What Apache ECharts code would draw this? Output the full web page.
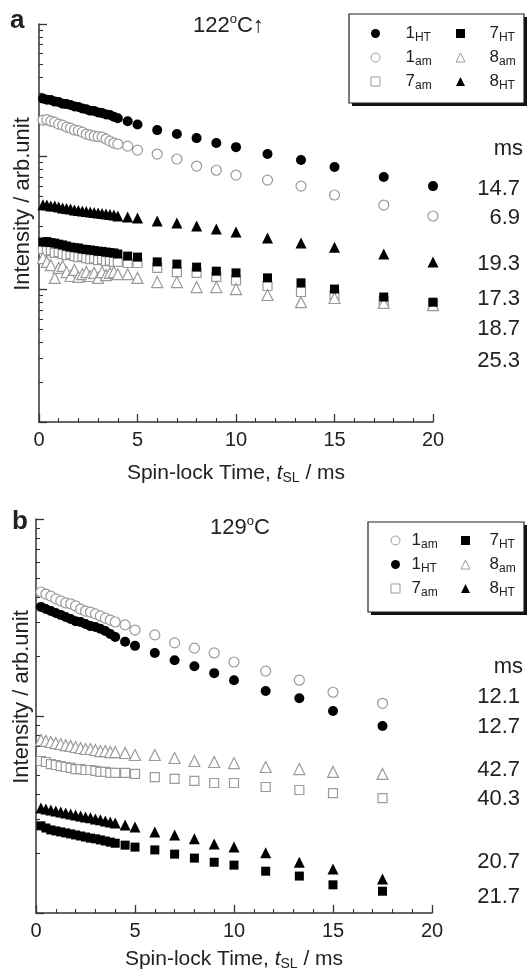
<!DOCTYPE html>
<html><head><meta charset="utf-8">
<script src="https://cdn.jsdelivr.net/npm/echarts@6/dist/echarts.min.js"></script>
<style>html,body{margin:0;padding:0;background:#fff}#c{width:529px;height:977px}</style>
</head><body><div id="c"></div>
<script>
// ---------- data ----------
const timesA = [0.2,0.4,0.6,0.8,1.0,1.2,1.4,1.6,1.8,2.0,2.2,2.4,2.6,2.8,3.0,3.2,3.4,3.6,3.8,4.0,4.5,5.0,6,7,8,9,10,11.6,13.3,15,17.5,20];
const timesB = [0.25,0.5,0.75,1.0,1.25,1.5,1.75,2.0,2.25,2.5,2.75,3.0,3.25,3.5,3.75,4.0,4.5,5.0,6,7,8,9,10,11.6,13.3,15,17.5];

const a1HT = [274,269,267,260,258,251,249,245,239,237,231,228,222,221,215,213,208,206,200,195,185,175,158.6,148,138,126.6,118,104.6,94.3,83.5,70.2,60];
const a1am = [188.8,190,185,182,176,173,167,164,159,157,153,148,145.5,143,141.6,140.5,135.8,131,126.6,124.5,120,112,104.6,96,85,79,72.7,66.6,60,51.4,43.2,35.7];
const a8HT = [43.5,43.2,42.4,42.4,41.7,41,40.6,40.3,39.6,39.3,38.9,38.6,38.3,37.9,37.6,37.3,36.9,36.6,36.3,35.7,35.1,34.5,32.7,31.6,30,28.5,27,24.4,22.3,20.8,18.5,16.1];
const a7HT = [22.7,22.9,22.5,22.3,21.9,21.6,21.2,20.8,20.6,20.5,20.1,19.95,19.8,19.6,19.4,19.3,19.1,18.9,18.8,18.45,17.8,17.5,16.1,15.5,14.7,13.7,13.3,12.2,11.2,10.05,8.75,8.0];
const a7am = [20.1,19.4,19.8,18.8,19.1,18.45,18.1,18.45,17.8,17.5,17.7,17.2,16.9,17.1,16.6,16.8,16.3,16.5,16.1,16.1,15.8,15.8,14.5,13.5,13.3,12.4,11.7,10.6,9.55,9.06,8.16,7.75];
const a8am = [17.2,16.1,15.2,12.2,14.5,15.0,13.5,12.6,14.0,12.4,13.0,13.5,12.6,13.3,12.2,13.5,12.8,13.3,13.5,13.0,13.0,12.2,11.35,11.35,10.4,10.4,10.05,9.06,8.0,8.6,7.9,7.6];

const b1am = [42.6,41.6,40.6,39.3,38.4,37.5,37.1,36.2,34.9,34.1,33.7,33.0,32.2,31.4,30.7,30.0,29.0,27.3,25.8,23.5,22.1,20.9,18.8,16.9,15.2,13.2,11.6];
const b1HT = [35.8,34.9,34.1,33.3,32.6,31.8,31.1,30.3,30.0,29.3,28.6,28.3,27.7,27.0,26.1,25.2,23.8,22.7,20.9,19.2,17.9,16.5,15.2,13.4,12.3,10.6,8.9];
const b8am = [7.55,7.47,7.38,7.29,7.21,7.12,7.05,6.96,6.88,6.80,6.80,6.72,6.64,6.64,6.56,6.56,6.49,6.34,6.34,6.12,5.91,5.84,5.77,5.51,5.38,5.2,5.08];
const b7am = [5.91,5.84,5.70,5.64,5.57,5.51,5.45,5.38,5.38,5.32,5.32,5.26,5.2,5.2,5.14,5.14,5.14,5.08,4.9,4.79,4.68,4.57,4.57,4.36,4.21,4.06,3.83];
const b8HT = [3.41,3.37,3.33,3.29,3.26,3.22,3.18,3.14,3.11,3.07,3.04,3.00,2.97,2.93,2.90,2.86,2.80,2.73,2.58,2.49,2.38,2.24,2.16,2.02,1.81,1.67,1.49];
const b7HT = [2.77,2.70,2.64,2.61,2.58,2.55,2.52,2.49,2.46,2.43,2.40,2.38,2.35,2.32,2.29,2.26,2.21,2.16,2.09,1.99,1.90,1.81,1.75,1.63,1.54,1.39,1.29];

const xTickValues = [0,5,10,15,20];
const yRangeA = [1,1000];
const yRangeB = [1,100];
const minorMultipliers = [2,3,4,5,6,7,8,9];
const legendA1 = ['a1HT','a1am','a7am'];
const legendA2 = ['a7HT','a8am','a8HT'];
const legendB1 = ['b1am','b1HT','b7am'];
const legendB2 = ['b7HT','b8am','b8HT'];
const t1LabelsA = ['ms','14.7','6.9','19.3','17.3','18.7','25.3'];
const t1LabelsB = ['ms','12.1','12.7','42.7','40.3','20.7','21.7'];

// ---------- chart ----------
const FF = "'Liberation Sans', Arial, Helvetica, sans-serif";
const AX = '#333';
const BLACK = '#000';
const GREY = '#9a9a9a';

function zip(t, v){ return t.map((x,i)=>[x, v[i]]); }
function minorLogs(range){
  const out = [];
  for (let d = range[0]; d < range[1]; d *= 10) minorMultipliers.forEach(m => out.push(Math.log10(m*d)));
  return out;
}
const styles = {
  '1HT': {symbol:'circle', size:10, itemStyle:{color:BLACK, opacity:1}},
  '1am': {symbol:'circle', size:10, itemStyle:{color:'#fff', borderColor:GREY, borderWidth:1.2, opacity:1}},
  '7HT': {symbol:'rect', size:9, itemStyle:{color:BLACK, opacity:1}},
  '7am': {symbol:'rect', size:9, itemStyle:{color:'#fff', borderColor:GREY, borderWidth:1.2, opacity:1}},
  '8HT': {symbol:'triangle', size:11, itemStyle:{color:BLACK, opacity:1}},
  '8am': {symbol:'triangle', size:11, itemStyle:{color:'#fff', borderColor:GREY, borderWidth:1.2, opacity:1}}
};
function mk(name, t, v, gi){
  const s = styles[name.slice(1)];
  return {type:'scatter', name, xAxisIndex:gi, yAxisIndex:gi*2, data:zip(t,v),
    symbol:s.symbol, symbolSize:s.size, itemStyle:s.itemStyle, silent:true, z:3};
}
function xAxis(gi, gap){
  return {type:'value', gridIndex:gi, min:0, max:20, interval:5,
    axisLine:{onZero:false, lineStyle:{color:AX, width:1.5}},
    axisTick:{inside:true, length:8, lineStyle:{color:AX, width:1.3}},
    minorTick:{show:true, splitNumber:5, length:4, lineStyle:{color:AX, width:1.1}},
    splitLine:{show:false}, minorSplitLine:{show:false},
    axisLabel:{fontSize:20, color:'#222', fontFamily:FF, margin:8,
      customValues:xTickValues},
    name:'{r|Spin-lock Time, }{i|t}{s|SL}{r| / ms}', nameLocation:'middle', nameGap:gap,
    nameTextStyle:{color:'#222', fontFamily:FF, fontSize:21,
      rich:{r:{fontSize:21, fontFamily:FF, color:'#222', lineHeight:24},
            i:{fontSize:21, fontFamily:FF, color:'#222', fontStyle:'italic', lineHeight:24},
            s:{fontSize:14, fontFamily:FF, color:'#222', lineHeight:14, verticalAlign:'bottom'}}}
  };
}
function yAxes(gi, range){
  return [
    {type:'log', logBase:10, gridIndex:gi, min:range[0], max:range[1], position:'left',
      axisLine:{show:true, onZero:false, lineStyle:{color:AX, width:1.5}},
      axisTick:{show:true, inside:true, length:8, lineStyle:{color:AX, width:1.3}},
      axisLabel:{show:false}, splitLine:{show:false}},
    {type:'value', gridIndex:gi, min:Math.log10(range[0]), max:Math.log10(range[1]), position:'left',
      axisLine:{show:false},
      axisTick:{show:true, inside:true, length:4, lineStyle:{color:AX, width:1.1}, customValues:minorLogs(range)},
      axisLabel:{show:false}, splitLine:{show:false}}
  ];
}
function legendText(gap){
  return {
    color:'#222', fontFamily:FF, fontSize:17,
    rich:{g:{width:gap, lineHeight:20},
          n:{fontSize:17, fontFamily:FF, color:'#222', lineHeight:20},
          s:{fontSize:12, fontFamily:FF, color:'#222', lineHeight:12, verticalAlign:'bottom'}}
  };
}
// icon centre x, label start x
function legend(data, iconX, labelX, top){
  const w = 9;
  const gap = labelX - (iconX + w/2 + 5);
  return {data, orient:'vertical', left:iconX - w/2, top, itemWidth:w, itemHeight:w, itemGap:5.5, padding:0,
    selectedMode:false, textStyle:legendText(gap), itemStyle:{borderWidth:1},
    formatter: n => '{g| }{n|' + n.charAt(1) + '}{s|' + n.slice(2) + '}', z:5};
}
function boxRect(x,y,w,h){
  return [
    {type:'rect', shape:{x:x+3, y:y+3, width:w, height:h}, style:{fill:'#111'}, z:1, silent:true},
    {type:'rect', shape:{x, y, width:w, height:h}, style:{fill:'#fff', stroke:'#222', lineWidth:1.2}, z:2, silent:true}
  ];
}
function txt(text, x, y, font, align, extra){
  return Object.assign({type:'text', x, y, z:5, silent:true,
    style:{text, font, fill:'#222', align:align||'left', verticalAlign:'middle'}}, extra||{});
}
const tempRich = {n:{fontSize:22, fontFamily:FF, color:'#222', lineHeight:26},
                  o:{fontSize:13, fontFamily:FF, color:'#222', lineHeight:26, verticalAlign:'top', padding:[0,0,10,0]}};

const yPosA = [149,189,218,264,299,329,361];
const yPosB = [667,697,727,770,799,862,897];

const graphics = [].concat(
  boxRect(349,14,175,89),
  boxRect(368,522,156,90),
  [txt('a', 10, 21, 'bold 26px '+FF),
   txt('b', 12, 522, 'bold 26px '+FF),
   {type:'text', x:193, y:26, z:5, silent:true, style:{text:'{n|122}{o|o}{n|C↑}', rich:tempRich, fill:'#222', verticalAlign:'middle'}},
   {type:'text', x:210, y:528, z:5, silent:true, style:{text:'{n|129}{o|o}{n|C}', rich:tempRich, fill:'#222', verticalAlign:'middle'}},
   txt('Intensity / arb.unit', 23, 204, '22px '+FF, 'center', {rotation:Math.PI/2}),
   txt('Intensity / arb.unit', 22, 697, '22px '+FF, 'center', {rotation:Math.PI/2})
  ],
  t1LabelsA.map((s,i)=>txt(s, i===0?523:520, yPosA[i], '22px '+FF, 'right')),
  t1LabelsB.map((s,i)=>txt(s, i===0?523:520, yPosB[i], '22px '+FF, 'right'))
);

const option = {
  backgroundColor:'#fff',
  animation:false,
  grid:[{left:39, top:24, width:394, height:398}, {left:36, top:519, width:396, height:394}],
  xAxis:[xAxis(0,39), xAxis(1,34)],
  yAxis:[].concat(yAxes(0,yRangeA), yAxes(1,yRangeB)),
  legend:[legend(legendA1,375,405,25), legend(legendA2,460,489,25), legend(legendB1,395,411,532), legend(legendB2,465,489,532)],
  series:[
    mk('a7am',timesA,a7am,0), mk('a8am',timesA,a8am,0), mk('a1am',timesA,a1am,0),
    mk('a7HT',timesA,a7HT,0), mk('a8HT',timesA,a8HT,0), mk('a1HT',timesA,a1HT,0),
    mk('b7am',timesB,b7am,1), mk('b8am',timesB,b8am,1), mk('b1am',timesB,b1am,1),
    mk('b7HT',timesB,b7HT,1), mk('b8HT',timesB,b8HT,1), mk('b1HT',timesB,b1HT,1)
  ],
  graphic:{elements:graphics}
};
const chart = echarts.init(document.getElementById('c'), null, {renderer:'canvas'});
chart.setOption(option);
</script></body></html>
